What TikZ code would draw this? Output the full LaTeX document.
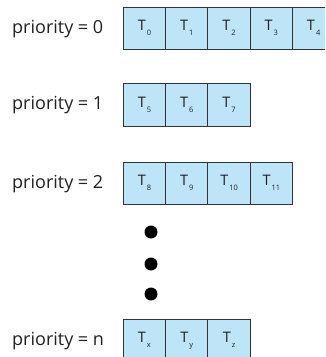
\documentclass[tikz,border=0pt]{standalone}
\usepackage{fontspec}
\setmainfont{Open Sans}
\begin{document}
\begin{tikzpicture}[x=1pt,y=-1pt,
  cell/.style={draw=black!80, line width=1pt, fill=qblue, rectangle,
    minimum width=42.3pt, minimum height=42.5pt, inner sep=0pt, outer sep=0pt,
    anchor=north west, text=qink, font=\fontsize{14.5}{14.5}\selectfont},
  plabel/.style={anchor=west, inner sep=0pt, text=qink, font=\fontsize{18}{18}\selectfont},
  dot/.style={circle, fill=black, minimum size=13pt, inner sep=0pt}]
\definecolor{qblue}{RGB}{190,228,247}
\definecolor{qink}{RGB}{35,31,32}
\newcommand{\tsk}[1]{T\kern1pt\raisebox{-5pt}{\fontsize{7.5}{7.5}\selectfont #1}}
\useasboundingbox (0,0) rectangle (325,357);
\clip (0,0) rectangle (325,357);
% priority = 0
\node[plabel] (p0) at (12,29) {priority = 0};
\node[cell] (a0) at (123.3,7) {\tsk{0}};
\node[cell] (a1) at (165.6,7) {\tsk{1}};
\node[cell] (a2) at (207.9,7) {\tsk{2}};
\node[cell] (a3) at (250.2,7) {\tsk{3}};
\node[cell] (a4) at (292.5,7) {\tsk{4}};
% priority = 1
\node[plabel] (p1) at (12,105) {priority = 1};
\node[cell] (b0) at (123.3,83.5) {\tsk{5}};
\node[cell] (b1) at (165.6,83.5) {\tsk{6}};
\node[cell] (b2) at (207.9,83.5) {\tsk{7}};
% priority = 2
\node[plabel] (p2) at (12,184) {priority = 2};
\node[cell] (c0) at (123.3,162) {\tsk{8}};
\node[cell] (c1) at (165.6,162) {\tsk{9}};
\node[cell] (c2) at (207.9,162) {\tsk{10}};
\node[cell] (c3) at (250.2,162) {\tsk{11}};
% ellipsis dots
\node[dot] (d1) at (151,232) {};
\node[dot] (d2) at (151,264) {};
\node[dot] (d3) at (151,294) {};
% priority = n
\node[plabel] (pn) at (12,341) {priority = n};
\node[cell] (e0) at (123.3,319) {\tsk{x}};
\node[cell] (e1) at (165.6,319) {\tsk{y}};
\node[cell] (e2) at (207.9,319) {\tsk{z}};
\end{tikzpicture}
\end{document}
